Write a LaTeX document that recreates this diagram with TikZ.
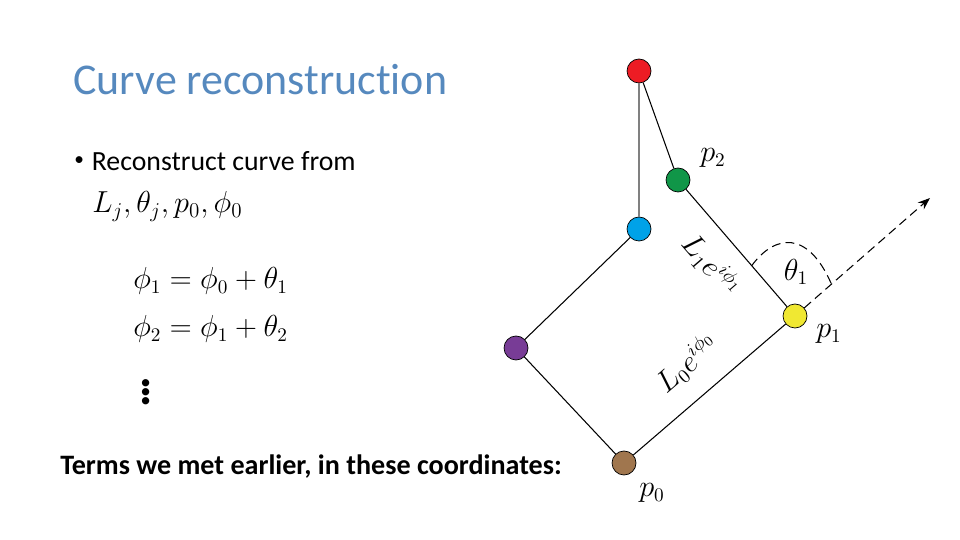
\documentclass[tikz,border=0pt]{standalone}
\usepackage{fontspec}
\setmainfont{Carlito}[Ligatures=NoCommon]
\usepackage{tikz}
\usetikzlibrary{arrows.meta, calc}
\definecolor{titleblue}{RGB}{86,137,190}
\definecolor{ptred}{RGB}{237,28,36}
\definecolor{ptgreen}{RGB}{16,150,72}
\definecolor{ptblue}{RGB}{0,162,232}
\definecolor{ptyellow}{RGB}{240,232,50}
\definecolor{ptpurple}{RGB}{120,60,150}
\definecolor{ptbrown}{RGB}{160,118,78}
\tikzset{
    dot_red/.style={circle, draw, fill=ptred, minimum size=0.48cm, inner sep=0pt},
    dot_green/.style={circle, draw, fill=ptgreen, minimum size=0.48cm, inner sep=0pt},
    dot_blue/.style={circle, draw, fill=ptblue, minimum size=0.48cm, inner sep=0pt},
    dot_yellow/.style={circle, draw, fill=ptyellow, minimum size=0.48cm, inner sep=0pt},
    dot_purple/.style={circle, draw, fill=ptpurple, minimum size=0.48cm, inner sep=0pt},
    dot_brown/.style={circle, draw, fill=ptbrown, minimum size=0.48cm, inner sep=0pt},
    link/.style={line width=0.6pt},
    txt/.style={anchor=base west, inner sep=0pt, font=\fontsize{15.8}{18}\selectfont}
}

\begin{document}
\begin{tikzpicture}[x=0.02cm, y=-0.02cm]
            \tikzstyle{lbl}=[inner sep=0pt, font=\fontsize{16}{18}\selectfont]
            \useasboundingbox (0,0) rectangle (960,540);

            % Text on the left
            \node (title) [anchor=base west, inner sep=0pt, text=titleblue, font=\fontsize{25}{30}\selectfont] at (73,95) {Curve reconstruction};
            \node (bullet) [txt] at (74,171) {\raisebox{0.2em}{\fontsize{11}{12}\selectfont\textbullet}\hspace{4.5pt}Reconstruct curve from};
            \node (given) [txt, font=\fontsize{16.5}{18}\selectfont] at (92,213) {$L_j, \theta_j, p_0, \phi_0$};
            \node (eq1) [txt, font=\fontsize{16.3}{18}\selectfont] at (133,289) {$\phi_1 = \phi_0 + \theta_1$};
            \node (eq2) [txt, font=\fontsize{16.3}{18}\selectfont] at (133,337) {$\phi_2 = \phi_1 + \theta_2$};
            \node (more) [lbl, font=\fontsize{28}{30}\selectfont\bfseries] at (146,387) {$\vdots$};
            \node (terms) [txt, font=\fontsize{16}{18}\selectfont\bfseries] at (60,474) {Terms we met earlier, in these coordinates:};

            % Points of the curve
            \node (red) [dot_red] at (639,71) {};
            \node (green) [dot_green] at (678,180) {};
            \node (blue) [dot_blue] at (639,229) {};
            \node (yellow) [dot_yellow] at (795,316) {};
            \node (purple) [dot_purple] at (516,348) {};
            \node (brown) [dot_brown] at (624,463) {};

            % Segments
            \draw [link, gray] (red) -- (blue);
            \draw [link] (red) -- (green);
            \draw [link] (green) -- (yellow) node [lbl, sloped, below=9pt, pos=0.48] {$L_1e^{i\phi_1}$};
            \draw [link] (brown) -- (yellow) node [lbl, sloped, above=11pt, pos=0.5] {$L_0e^{i\phi_0}$};
            \draw [link] (blue) -- (purple);
            \draw [link] (purple) -- (brown);

            % Turning angle
            \coordinate (tip) at (930,198);
            \coordinate (a1) at ($(green)!0.63!(yellow)$);
            \coordinate (a2) at ($(yellow)!0.27!(tip)$);
            \draw [link, -{Stealth[length=7pt]}, dash pattern=on 5pt off 3pt] (yellow) -- (tip);
            \draw [link, dash pattern=on 5pt off 3pt] (a1) .. controls (775,234) and (808,230) .. (a2);

            % Labels
            \node (p2) [lbl] at (713,158) {$p_2$};
            \node (p1) [lbl] at (829,334) {$p_1$};
            \node (p0) [lbl] at (652,493) {$p_0$};
            \node (theta) [lbl] at (796,272) {$\theta_1$};
\end{tikzpicture}
\end{document}
